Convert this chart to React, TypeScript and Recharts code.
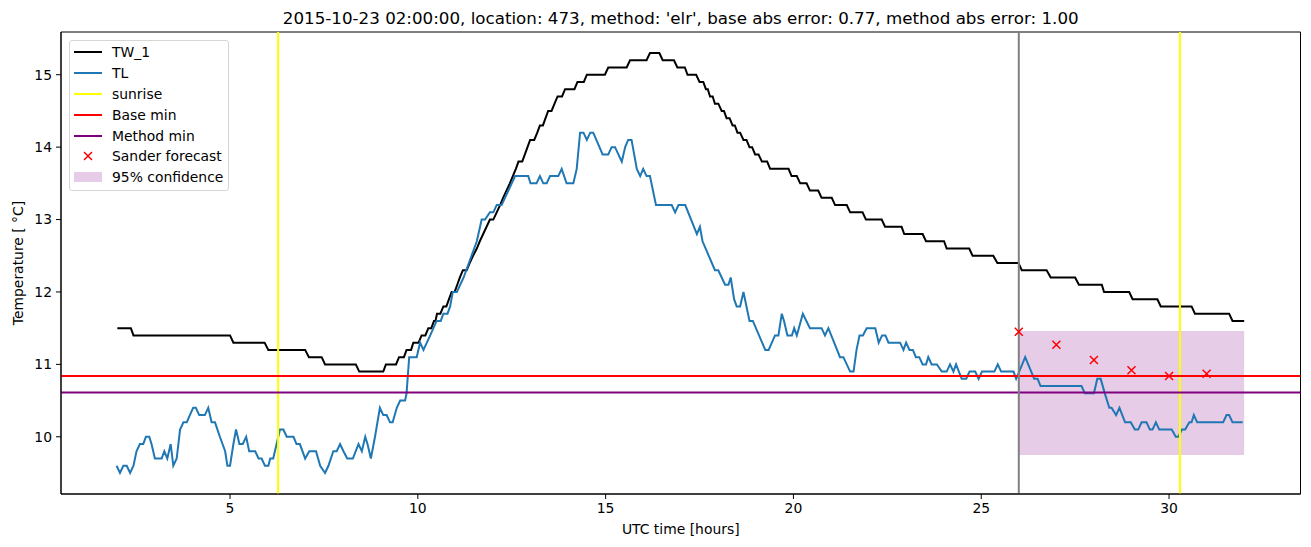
import React from 'react';
import {
  ComposedChart,
  Line,
  Scatter,
  XAxis,
  YAxis,
  ReferenceLine,
  ReferenceArea,
  Legend,
} from 'recharts';

const FONT = '"DejaVu Sans", Verdana, sans-serif';

// TW_1 sensor, [hour, °C]
const twPoints: [number, number][] = [
  [2.0, 11.5], [2.36, 11.5], [2.43, 11.4], [5.0, 11.4], [5.09, 11.3], [5.92, 11.3], [6.02, 11.2],
  [7.0, 11.2], [7.1, 11.1], [7.44, 11.1], [7.53, 11.0], [8.35, 11.0], [8.44, 10.9], [9.08, 10.9],
  [9.15, 11.0], [9.42, 11.0], [9.5, 11.1], [9.63, 11.1], [9.7, 11.2], [9.82, 11.2], [9.88, 11.3],
  [10.02, 11.3], [10.1, 11.4], [10.2, 11.4], [10.28, 11.5], [10.36, 11.5], [10.43, 11.6], [10.47, 11.6],
  [10.51, 11.7], [10.6, 11.7], [10.68, 11.8], [10.76, 11.8], [10.83, 11.9], [10.9, 12.0], [10.98, 12.0],
  [11.05, 12.1], [11.12, 12.2], [11.2, 12.3], [11.3, 12.3], [11.38, 12.4], [11.47, 12.5], [11.57, 12.6],
  [11.65, 12.7], [11.74, 12.8], [11.83, 12.9], [11.92, 13.0], [12.01, 13.0], [12.1, 13.1], [12.19, 13.2],
  [12.27, 13.3], [12.36, 13.4], [12.45, 13.5], [12.53, 13.6], [12.61, 13.7], [12.68, 13.8], [12.78, 13.8],
  [12.85, 13.9], [12.92, 14.0], [12.99, 14.1], [13.1, 14.1], [13.18, 14.2], [13.25, 14.3], [13.33, 14.3],
  [13.4, 14.4], [13.47, 14.5], [13.56, 14.5], [13.64, 14.6], [13.72, 14.7], [13.84, 14.7], [13.92, 14.8],
  [14.17, 14.8], [14.25, 14.9], [14.42, 14.9], [14.5, 15.0], [14.98, 15.0], [15.07, 15.1], [15.56, 15.1],
  [15.65, 15.2], [16.09, 15.2], [16.18, 15.3], [16.43, 15.3], [16.52, 15.2], [16.82, 15.2], [16.91, 15.1],
  [17.11, 15.1], [17.18, 15.0], [17.41, 15.0], [17.5, 14.9], [17.6, 14.9], [17.67, 14.8], [17.72, 14.8],
  [17.78, 14.7], [17.85, 14.7], [17.91, 14.6], [18.0, 14.6], [18.09, 14.5], [18.15, 14.5], [18.22, 14.4],
  [18.3, 14.4], [18.38, 14.3], [18.44, 14.3], [18.51, 14.2], [18.58, 14.2], [18.67, 14.1], [18.75, 14.1],
  [18.83, 14.0], [18.9, 14.0], [18.98, 13.9], [19.07, 13.9], [19.16, 13.8], [19.3, 13.8], [19.38, 13.7],
  [19.87, 13.7], [19.95, 13.6], [20.09, 13.6], [20.18, 13.5], [20.35, 13.5], [20.44, 13.4], [20.66, 13.4],
  [20.75, 13.3], [21.02, 13.3], [21.11, 13.2], [21.42, 13.2], [21.51, 13.1], [21.84, 13.1], [21.93, 13.0],
  [22.35, 13.0], [22.44, 12.9], [22.88, 12.9], [22.95, 12.8], [23.44, 12.8], [23.53, 12.7], [24.01, 12.7],
  [24.08, 12.6], [24.68, 12.6], [24.77, 12.5], [25.32, 12.5], [25.43, 12.4], [25.99, 12.4], [26.08, 12.3],
  [26.74, 12.3], [26.85, 12.2], [27.5, 12.2], [27.6, 12.1], [28.21, 12.1], [28.27, 12.0], [28.94, 12.0],
  [29.03, 11.9], [29.69, 11.9], [29.78, 11.8], [30.6, 11.8], [30.69, 11.7], [31.6, 11.7], [31.69, 11.6],
  [32.0, 11.6],
];

// TL sensor, [hour, °C]
const tlPoints: [number, number][] = [
  [1.98, 9.6], [2.07, 9.5], [2.16, 9.6], [2.25, 9.6], [2.34, 9.5], [2.43, 9.6], [2.51, 9.8], [2.6, 9.9],
  [2.69, 9.9], [2.76, 10.0], [2.85, 10.0], [2.91, 9.9], [3.0, 9.7], [3.18, 9.7], [3.25, 9.8], [3.33, 9.7],
  [3.42, 9.9], [3.49, 9.6], [3.58, 9.7], [3.67, 10.1], [3.76, 10.2], [3.85, 10.2], [3.93, 10.3], [4.02, 10.4],
  [4.09, 10.4], [4.18, 10.3], [4.33, 10.3], [4.42, 10.4], [4.51, 10.2], [4.6, 10.2], [4.73, 10.0], [4.87, 9.8],
  [4.93, 9.6], [5.0, 9.6], [5.09, 9.9], [5.16, 10.1], [5.25, 9.9], [5.34, 9.9], [5.43, 10.0], [5.51, 9.8],
  [5.67, 9.8], [5.76, 9.7], [5.84, 9.7], [5.93, 9.6], [6.02, 9.6], [6.07, 9.7], [6.15, 9.7], [6.24, 9.9],
  [6.33, 10.1], [6.42, 10.1], [6.51, 10.0], [6.69, 10.0], [6.77, 9.9], [6.86, 9.9], [7.0, 9.7], [7.11, 9.8],
  [7.29, 9.8], [7.4, 9.6], [7.53, 9.5], [7.62, 9.6], [7.75, 9.8], [7.84, 9.8], [7.93, 9.9], [8.02, 9.8],
  [8.12, 9.7], [8.27, 9.7], [8.42, 9.9], [8.51, 9.8], [8.6, 10.0], [8.66, 9.9], [8.75, 9.7], [8.86, 10.0],
  [8.99, 10.4], [9.08, 10.3], [9.17, 10.3], [9.26, 10.2], [9.33, 10.2], [9.44, 10.4], [9.53, 10.5],
  [9.66, 10.5], [9.7, 10.6], [9.77, 11.1], [9.97, 11.1], [10.06, 11.3], [10.15, 11.2], [10.33, 11.4],
  [10.5, 11.6], [10.61, 11.6], [10.68, 11.7], [10.79, 11.7], [10.86, 11.8], [10.93, 12.0], [11.04, 12.0],
  [11.22, 12.2], [11.57, 12.7], [11.7, 13.0], [11.79, 13.0], [11.92, 13.1], [12.01, 13.1], [12.1, 13.2],
  [12.23, 13.2], [12.59, 13.6], [12.94, 13.6], [13.0, 13.5], [13.16, 13.5], [13.25, 13.6], [13.34, 13.5],
  [13.43, 13.5], [13.52, 13.6], [13.74, 13.6], [13.83, 13.7], [13.96, 13.5], [14.14, 13.5], [14.23, 13.7],
  [14.32, 14.2], [14.41, 14.2], [14.5, 14.1], [14.59, 14.2], [14.67, 14.2], [14.92, 13.9], [15.07, 13.9],
  [15.16, 14.0], [15.25, 14.0], [15.43, 13.8], [15.52, 14.0], [15.6, 14.1], [15.69, 14.1], [15.83, 13.7],
  [15.92, 13.6], [16.0, 13.7], [16.09, 13.6], [16.18, 13.6], [16.34, 13.2], [16.76, 13.2], [16.85, 13.1],
  [16.94, 13.2], [17.12, 13.2], [17.43, 12.8], [17.51, 12.9], [17.58, 12.7], [17.91, 12.3], [18.0, 12.3],
  [18.18, 12.1], [18.27, 12.1], [18.33, 12.2], [18.42, 11.9], [18.49, 11.8], [18.58, 11.8], [18.67, 12.0],
  [18.83, 11.6], [18.92, 11.6], [19.25, 11.2], [19.34, 11.2], [19.51, 11.4], [19.6, 11.4], [19.69, 11.7],
  [19.75, 11.6], [19.84, 11.4], [19.96, 11.4], [20.02, 11.5], [20.09, 11.4], [20.25, 11.7], [20.44, 11.5],
  [20.75, 11.5], [20.84, 11.4], [20.93, 11.5], [21.24, 11.1], [21.33, 11.1], [21.51, 10.9], [21.6, 10.9],
  [21.68, 11.2], [21.76, 11.4], [21.85, 11.4], [21.95, 11.5], [22.18, 11.5], [22.27, 11.3], [22.36, 11.4],
  [22.45, 11.4], [22.53, 11.3], [22.84, 11.3], [22.93, 11.2], [23.0, 11.3], [23.09, 11.2], [23.18, 11.2],
  [23.26, 11.1], [23.35, 11.1], [23.44, 11.0], [23.53, 11.0], [23.59, 11.1], [23.68, 11.0], [23.82, 11.0],
  [23.95, 10.9], [24.08, 10.9], [24.17, 11.0], [24.26, 10.9], [24.33, 11.0], [24.48, 10.8], [24.6, 10.8],
  [24.69, 10.9], [24.84, 10.9], [24.93, 10.8], [25.02, 10.9], [25.35, 10.9], [25.44, 11.0], [25.53, 10.9],
  [25.86, 10.9], [25.93, 10.8], [26.17, 11.1], [26.41, 10.8], [26.5, 10.8], [26.58, 10.7], [27.67, 10.7],
  [27.76, 10.6], [28.0, 10.6], [28.09, 10.8], [28.18, 10.8], [28.29, 10.6], [28.41, 10.4], [28.47, 10.4],
  [28.59, 10.3], [28.68, 10.4], [28.83, 10.2], [28.98, 10.2], [29.09, 10.1], [29.18, 10.1], [29.27, 10.2],
  [29.4, 10.2], [29.49, 10.1], [29.56, 10.1], [29.65, 10.2], [29.74, 10.1], [30.07, 10.1], [30.18, 10.0],
  [30.25, 10.0], [30.34, 10.1], [30.43, 10.1], [30.54, 10.2], [30.6, 10.2], [30.66, 10.3], [30.75, 10.2],
  [31.44, 10.2], [31.53, 10.3], [31.6, 10.3], [31.69, 10.2], [31.96, 10.2],
];

const sanderHours = [26, 27, 28, 29, 30, 31];
const sanderValues = [11.45, 11.27, 11.06, 10.92, 10.84, 10.87];

const sunriseHours = [6.28, 30.29];
const forecastStart = 26;
const baseMin = 10.84;
const methodMin = 10.61;
const confidence = { from: 26, to: 32, low: 9.75, high: 11.46 };

const xTicks = [5, 10, 15, 20, 25, 30];
const yTicks = [10, 11, 12, 13, 14, 15];
const X_DOMAIN: [number, number] = [0.5, 33.5];
const Y_DOMAIN: [number, number] = [9.21, 15.59];

const legendLabels = ['TW_1', 'TL', 'sunrise', 'Base min', 'Method min', 'Sander forecast', '95% confidence'];

const TITLE =
  "2015-10-23 02:00:00, location: 473, method: 'elr', base abs error: 0.77, method abs error: 1.00";

const twData = twPoints.map(([h, v]) => ({ h, v }));
const tlData = tlPoints.map(([h, v]) => ({ h, v }));
const sanderData = sanderHours.map((h, i) => ({ h, v: sanderValues[i] }));

const legendSwatch = (label: string) => {
  const line = (c: string) => <line x1={0} y1={7} x2={28} y2={7} stroke={c} strokeWidth={2} />;
  switch (label) {
    case 'TW_1': return line('#000000');
    case 'TL': return line('#1f77b4');
    case 'sunrise': return line('#ffff00');
    case 'Base min': return line('#ff0000');
    case 'Method min': return line('#800080');
    case 'Sander forecast':
      return <path d="M10,3L18,11M10,11L18,3" stroke="#ff0000" strokeWidth={1.5} />;
    default:
      return <rect x={0} y={2} width={28} height={10} fill="#800080" fillOpacity={0.2} />;
  }
};

const renderLegend = () => (
  <div
    style={{
      boxSizing: 'border-box',
      width: 160,
      background: 'rgba(255,255,255,0.8)',
      border: '1px solid #d6d6d6',
      borderRadius: 3,
      padding: '1px 4px 2px 4px',
      fontFamily: FONT,
      fontSize: 13.9,
      color: '#000',
    }}
  >
    {legendLabels.map((label) => (
      <div key={label} style={{ display: 'flex', alignItems: 'center', height: 20.8 }}>
        <svg width={28} height={14} style={{ flex: 'none' }}>{legendSwatch(label)}</svg>
        <span style={{ marginLeft: 10, whiteSpace: 'nowrap' }}>{label}</span>
      </div>
    ))}
  </div>
);

const XMark = (props: any) => {
  const { cx, cy } = props;
  const r = 4;
  return (
    <path
      d={`M${cx - r},${cy - r}L${cx + r},${cy + r}M${cx - r},${cy + r}L${cx + r},${cy - r}`}
      stroke="#ff0000"
      strokeWidth={1.5}
    />
  );
};

const tickStyle = { fill: '#000', fontSize: 13.9, fontFamily: FONT };

export default function App() {
  return (
    <div style={{ position: 'absolute', left: 0, top: 0, width: 1311, height: 547, background: '#fff' }}>
      <div
        style={{
          position: 'absolute',
          left: 61,
          top: 7,
          width: 1239.5,
          textAlign: 'center',
          fontFamily: FONT,
          fontSize: 16.7,
          lineHeight: '22px',
          color: '#000',
          whiteSpace: 'nowrap',
        }}
      >
        {TITLE}
      </div>
      <ComposedChart width={1311} height={547} margin={{ top: 32, right: 10.5, bottom: 0, left: 0 }}>
        <XAxis
          dataKey="h"
          type="number"
          domain={X_DOMAIN}
          ticks={xTicks}
          allowDataOverflow
          height={53}
          tick={tickStyle}
          tickSize={5}
          tickMargin={4}
          tickLine={{ stroke: '#000' }}
          axisLine={{ stroke: '#000' }}
          label={({ viewBox }: any) => (
            <text
              x={viewBox.x + viewBox.width / 2}
              y={viewBox.y + 35}
              textAnchor="middle"
              dominantBaseline="central"
              fontFamily={FONT}
              fontSize={13.9}
              fill="#000"
            >
              UTC time [hours]
            </text>
          )}
        />
        <YAxis
          type="number"
          domain={Y_DOMAIN}
          ticks={yTicks}
          allowDataOverflow
          width={61}
          tick={tickStyle}
          tickSize={5}
          tickMargin={4}
          tickLine={{ stroke: '#000' }}
          axisLine={{ stroke: '#000' }}
          label={({ viewBox }: any) => {
            const cx = 18;
            const cy = viewBox.y + viewBox.height / 2;
            return (
              <text
                x={cx}
                y={cy}
                transform={`rotate(-90 ${cx} ${cy})`}
                textAnchor="middle"
                dominantBaseline="central"
                fontFamily={FONT}
                fontSize={13.9}
                fill="#000"
              >
                Temperature [ °C]
              </text>
            );
          }}
        />
        <ReferenceArea
          x1={confidence.from}
          x2={confidence.to}
          y1={confidence.low}
          y2={confidence.high}
          fill="#800080"
          fillOpacity={0.2}
          stroke="none"
        />
        <Line data={twData} dataKey="v" type="linear" stroke="#000000" strokeWidth={2} dot={false} isAnimationActive={false} />
        <Line data={tlData} dataKey="v" type="linear" stroke="#1f77b4" strokeWidth={2} dot={false} isAnimationActive={false} />
        {sunriseHours.map((h) => (
          <ReferenceLine key={h} x={h} stroke="#ffff00" strokeWidth={2} />
        ))}
        <ReferenceLine y={baseMin} stroke="#ff0000" strokeWidth={2} />
        <ReferenceLine y={methodMin} stroke="#800080" strokeWidth={2} />
        <ReferenceLine x={forecastStart} stroke="#808080" strokeWidth={2} />
        <Scatter data={sanderData} dataKey="v" shape={XMark} isAnimationActive={false} />
        <ReferenceArea
          x1={X_DOMAIN[0]}
          x2={X_DOMAIN[1]}
          y1={Y_DOMAIN[0]}
          y2={Y_DOMAIN[1]}
          fill="none"
          stroke="#000"
          strokeWidth={1}
        />
        <Legend
          content={renderLegend}
          layout="vertical"
          align="center"
          verticalAlign="middle"
          wrapperStyle={{ left: 69, top: 40, width: 160 }}
        />
      </ComposedChart>
    </div>
  );
}
